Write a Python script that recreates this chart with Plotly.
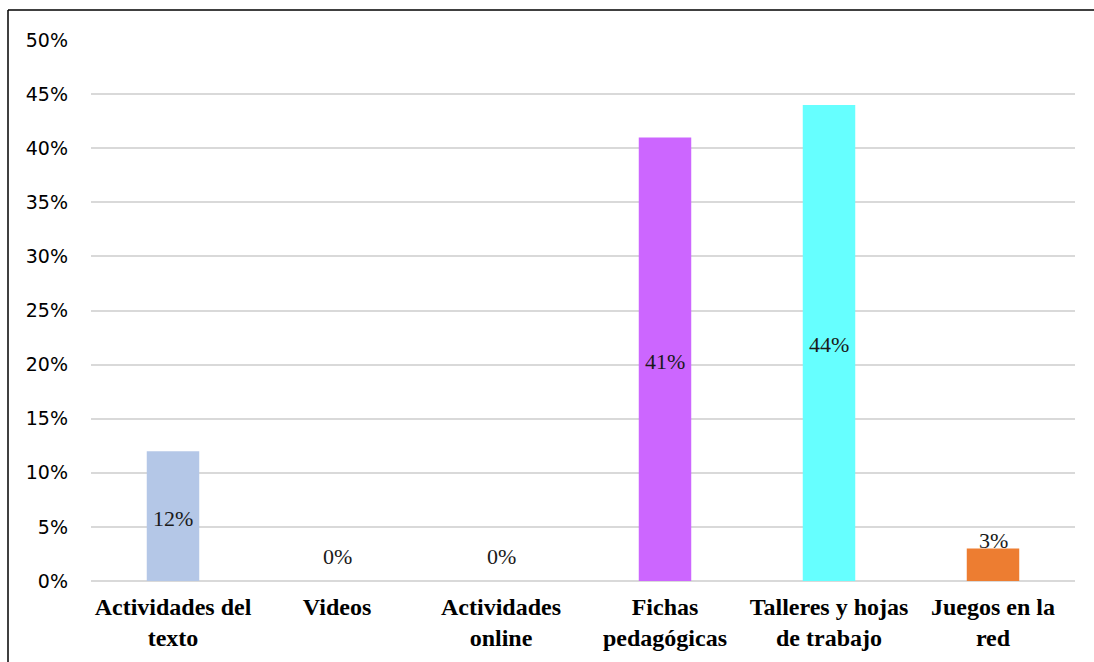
import plotly.graph_objects as go

# Chart data
categories = ["Actividades del<br>texto", "Videos", "Actividades<br>online",
              "Fichas<br>pedagógicas", "Talleres y hojas<br>de trabajo", "Juegos en la<br>red"]
values = [12, 0, 0, 41, 44, 3]
bar_colors = ["#b4c7e7", "#4472c4", "#a5a5a5", "#cc66ff", "#66ffff", "#ed7d31"]
y_ticks = [0, 5, 10, 15, 20, 25, 30, 35, 40, 45, 50]
y_tick_labels = [f"{t}%" for t in y_ticks]

W, H = 1094, 662
ML, MR, MT, MB = 91, 19, 40, 81

fig = go.Figure(go.Bar(
    x=categories, y=values,
    marker=dict(color=bar_colors, line=dict(width=0)),
    width=0.32,
    hoverinfo="skip",
))

label_font = dict(family="Liberation Serif", size=22, color="#1a1a1a")

# Value labels: centred inside tall bars, just above short ones
annotations = []
for cat, v in zip(categories, values):
    if v >= 10:
        annotations.append(dict(x=cat, y=v / 2, text=f"{v}%", showarrow=False,
                                xref="x", yref="y", yanchor="middle", yshift=-2,
                                font=label_font))
    else:
        annotations.append(dict(x=cat, y=v, text=f"{v}%", showarrow=False,
                                xref="x", yref="y", yanchor="bottom",
                                yshift=(10 if v == 0 else -6),
                                font=label_font))

pw, ph = W - ML - MR, H - MT - MB
def px_x(p): return (p - ML) / pw
def px_y(p): return (H - MB - p) / ph

# Frame lines on the left and top edges
shapes = [
    dict(type="line", xref="paper", yref="paper", x0=px_x(8), x1=px_x(8),
         y0=px_y(10), y1=px_y(H + 5), line=dict(color="black", width=1.5)),
    dict(type="line", xref="paper", yref="paper", x0=px_x(8), x1=px_x(W + 5),
         y0=px_y(10), y1=px_y(10), line=dict(color="black", width=1.5)),
]

fig.update_layout(
    width=W, height=H,
    margin=dict(l=ML, r=MR, t=MT, b=MB),
    paper_bgcolor="white", plot_bgcolor="white",
    showlegend=False,
    annotations=annotations,
    shapes=shapes,
    xaxis=dict(
        tickfont=dict(family="Liberation Serif", size=24, color="black"),
        showgrid=False, showline=False, ticks="",
        ticklabelstandoff=9,
        tickvals=categories,
        ticktext=[f"<b>{c}</b>" for c in categories],
    ),
    yaxis=dict(
        range=[0, 50], tickvals=y_ticks, ticktext=y_tick_labels,
        tickfont=dict(family="DejaVu Sans", size=19, color="black"),
        showgrid=True, gridcolor="#d9d9d9", gridwidth=1.5,
        zeroline=True, zerolinecolor="#d9d9d9", zerolinewidth=1.5,
        showline=False, ticks="", ticklabelstandoff=22,
    ),
)

fig.write_html("out.html")
